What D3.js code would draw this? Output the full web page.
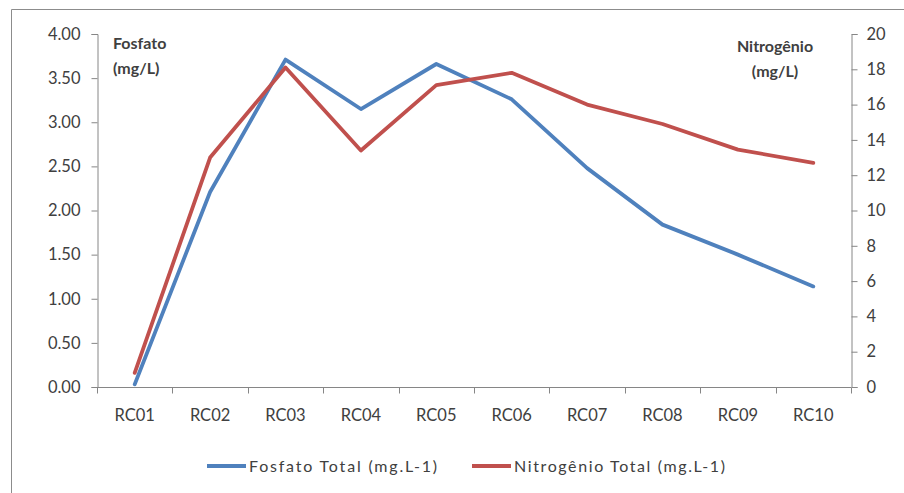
<!DOCTYPE html>
<html>
<head>
<meta charset="utf-8">
<script src="https://cdn.jsdelivr.net/npm/d3@7"></script>
<style>
  html, body { margin: 0; padding: 0; background: #fff; }
  svg { display: block; }
  text { font-family: Lato, "Open Sans", sans-serif; fill: #404040; }
</style>
</head>
<body>
<svg id="chart" width="904" height="493"></svg>
<script>
// Sampling points
const categories = ["RC01", "RC02", "RC03", "RC04", "RC05", "RC06", "RC07", "RC08", "RC09", "RC10"];
// Fosfato Total (mg.L-1), left axis
const fosfato = [0.03, 2.21, 3.71, 3.15, 3.66, 3.26, 2.48, 1.84, 1.50, 1.14];
// Nitrogênio Total (mg.L-1), right axis
const nitrogenio = [0.8, 13.0, 18.1, 13.4, 17.1, 17.8, 16.0, 14.9, 13.45, 12.7];
const leftTicks = [0, 0.5, 1, 1.5, 2, 2.5, 3, 3.5, 4];
const rightTicks = [0, 2, 4, 6, 8, 10, 12, 14, 16, 18, 20];
const seriesNames = ["Fosfato Total (mg.L-1)", "Nitrogênio Total (mg.L-1)"];

const blue = "#4f81bd", red = "#c0504d", axisGrey = "#868686";

const svg = d3.select("#chart");

// Outer chart frame
svg.append("path")
  .attr("d", "M11.5,493 V9.5 H904")
  .attr("fill", "none").attr("stroke", "#8c8c8c").attr("stroke-width", 1);

const plot = { left: 97, right: 851, top: 34, bottom: 387 };

const x = d3.scaleBand().domain(categories).range([plot.left, plot.right]);
const yL = d3.scaleLinear().domain([0, 4]).range([plot.bottom, plot.top]);
const yR = d3.scaleLinear().domain([0, 20]).range([plot.bottom, plot.top]);

function styleAxis(g) {
  g.selectAll("path.domain").attr("stroke", axisGrey);
  g.selectAll(".tick line").attr("stroke", axisGrey);
  g.selectAll(".tick text").attr("fill", "#404040")
    .style("font-family", "Lato, 'Open Sans', sans-serif").style("font-size", "16.5px");
}

// Left axis
svg.append("g").attr("transform", `translate(${plot.left + 0.5},0)`)
  .call(d3.axisLeft(yL).tickValues(leftTicks).tickFormat(d3.format(".2f")).tickSize(6).tickSizeOuter(6).tickPadding(11))
  .call(styleAxis);

// Right axis
svg.append("g").attr("transform", `translate(${plot.right + 0.5},0)`)
  .call(d3.axisRight(yR).tickValues(rightTicks).tickFormat(d3.format("d")).tickSize(6).tickSizeOuter(6).tickPadding(9))
  .call(styleAxis);

// Category axis with ticks between categories
const xg = svg.append("g").attr("transform", `translate(0,${plot.bottom + 0.5})`);
xg.append("line").attr("x1", plot.left).attr("x2", plot.right)
  .attr("stroke", axisGrey);
const boundaries = categories.map(c => x(c)).concat([x.range()[1]]);
xg.selectAll("line.sep").data(boundaries).join("line").attr("class", "sep")
  .attr("x1", d => Math.round(d) + 0.5).attr("x2", d => Math.round(d) + 0.5)
  .attr("y1", 0).attr("y2", 6).attr("stroke", axisGrey);
xg.selectAll("text").data(categories).join("text")
  .attr("x", d => x(d) + x.bandwidth() / 2).attr("y", 33)
  .attr("text-anchor", "middle").style("font-size", "16.5px").text(d => d);

// Series lines
const lineL = d3.line().x((d, i) => x(categories[i]) + x.bandwidth() / 2).y(d => yL(d));
const lineR = d3.line().x((d, i) => x(categories[i]) + x.bandwidth() / 2).y(d => yR(d));

svg.append("path").datum(fosfato).attr("d", lineL)
  .attr("fill", "none").attr("stroke", blue).attr("stroke-width", 3.8)
  .attr("stroke-linejoin", "round").attr("stroke-linecap", "round");
svg.append("path").datum(nitrogenio).attr("d", lineR)
  .attr("fill", "none").attr("stroke", red).attr("stroke-width", 3.8)
  .attr("stroke-linejoin", "round").attr("stroke-linecap", "round");

// Axis titles
const titleL = svg.append("text").attr("x", 113).attr("y", 49)
  .style("font-size", "16px").style("font-weight", "bold");
titleL.append("tspan").attr("x", 113).text("Fosfato");
titleL.append("tspan").attr("x", 113).attr("dy", 25).text("(mg/L)");

const titleR = svg.append("text").attr("x", 775).attr("y", 52)
  .attr("text-anchor", "middle").style("font-size", "16px").style("font-weight", "bold");
titleR.append("tspan").attr("x", 775).text("Nitrogênio");
titleR.append("tspan").attr("x", 775).attr("dy", 25).text("(mg/L)");

// Legend
const legend = [
  { name: seriesNames[0], color: blue, x: 207, w: 188 },
  { name: seriesNames[1], color: red, x: 472, w: 211 }
];
const lg = svg.append("g").attr("transform", "translate(0,466)");
lg.selectAll("line").data(legend).join("line")
  .attr("x1", d => d.x).attr("x2", d => d.x + 39).attr("y1", 0).attr("y2", 0)
  .attr("stroke", d => d.color).attr("stroke-width", 3.8);
lg.selectAll("text").data(legend).join("text")
  .attr("x", d => d.x + 42).attr("y", 6)
  .attr("textLength", d => d.w).attr("lengthAdjust", "spacing")
  .style("font-size", "16px").text(d => d.name);
</script>
</body>
</html>
